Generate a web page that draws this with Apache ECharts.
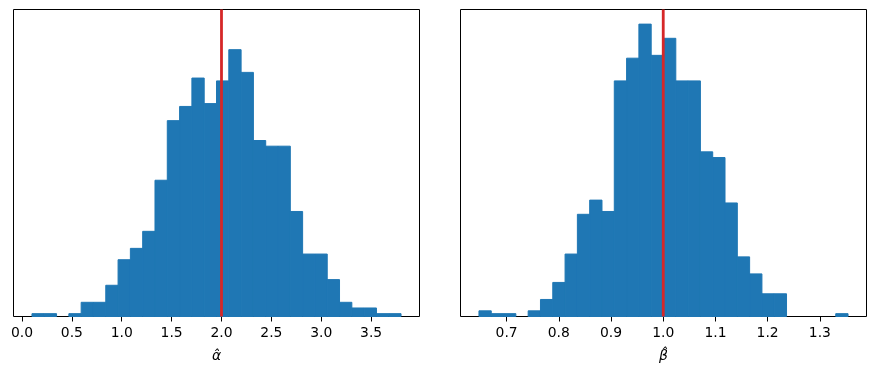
<!DOCTYPE html>
<html>
<head>
<meta charset="utf-8">
<script src="https://cdn.jsdelivr.net/npm/echarts@6/dist/echarts.min.js"></script>
<style>
  html, body { margin: 0; padding: 0; background: #fff; }
  #chart { width: 875px; height: 380px; }
</style>
</head>
<body>
<div id="chart"></div>
<script>
// alpha hat: 30 bins between the sample min and max
const alphaRange = [0.1, 3.8]
const alphaCounts = [1, 1, 0, 1, 5, 5, 11, 20, 24, 30, 48, 69, 74, 84, 75,
  83, 94, 86, 62, 60, 60, 37, 22, 22, 13, 5, 3, 3, 1, 1]
const alphaTicks = [0.0, 0.5, 1.0, 1.5, 2.0, 2.5, 3.0, 3.5]
const alphaTrue = 2.0

// beta hat
const betaRange = [0.647, 1.354]
const betaCounts = [2, 1, 1, 0, 2, 6, 12, 22, 36, 41, 37, 83, 91, 103, 92,
  98, 83, 83, 58, 56, 40, 21, 15, 8, 8, 0, 0, 0, 0, 1]
const betaTicks = [0.7, 0.8, 0.9, 1.0, 1.1, 1.2, 1.3]
const betaTrue = 1.0

// both panels share the y axis (matplotlib sharey), 5% headroom
const yMax = 103 * 1.05

const BLUE = '#1f77b4'
const RED = '#d62728'
const FONT = 'DejaVu Sans'

const binData = (range, counts) => {
  const w = (range[1] - range[0]) / counts.length
  return counts.map((c, i) => [range[0] + i * w, range[0] + (i + 1) * w, c])
}

const renderBar = (params, api) => {
  if (!api.value(2)) return null
  const topLeft = api.coord([api.value(0), api.value(2)])
  const bottomRight = api.coord([api.value(1), 0])
  return {
    type: 'rect',
    shape: {
      x: topLeft[0],
      y: topLeft[1],
      width: bottomRight[0] - topLeft[0],
      height: bottomRight[1] - topLeft[1]
    },
    // stroke in the fill colour hides the seams between bins
    style: { fill: BLUE, stroke: BLUE, lineWidth: 1 }
  }
}

const makeXAxis = (idx, range, ticks, name) => {
  const pad = (range[1] - range[0]) * 0.05
  return {
    type: 'value',
    gridIndex: idx,
    min: range[0] - pad,
    max: range[1] + pad,
    name: name,
    nameLocation: 'middle',
    nameGap: 33,
    nameTextStyle: { fontFamily: FONT, fontStyle: 'italic', fontSize: 14, color: '#000' },
    splitLine: { show: false },
    axisLine: { show: false },
    axisTick: {
      show: true,
      length: 5,
      customValues: ticks,
      lineStyle: { color: '#000', width: 1 }
    },
    axisLabel: {
      customValues: ticks,
      margin: 10,
      fontFamily: FONT,
      fontSize: 13.9,
      color: '#000',
      formatter: v => v.toFixed(1)
    }
  }
}

const makeYAxis = idx => ({
  type: 'value',
  gridIndex: idx,
  min: 0,
  max: yMax,
  show: false
})

const gridStyle = { show: true, borderColor: '#000', borderWidth: 1, backgroundColor: '#fff' }

const option = {
  animation: false,
  grid: [
    Object.assign({ left: 13.5, top: 9.5, width: 406, height: 307 }, gridStyle),
    Object.assign({ left: 460.5, top: 9.5, width: 406, height: 307 }, gridStyle)
  ],
  xAxis: [
    makeXAxis(0, alphaRange, alphaTicks, 'α\u0302'),
    makeXAxis(1, betaRange, betaTicks, 'β\u0302')
  ],
  yAxis: [makeYAxis(0), makeYAxis(1)],
  series: [
    {
      type: 'custom',
      xAxisIndex: 0,
      yAxisIndex: 0,
      renderItem: renderBar,
      encode: { x: [0, 1], y: 2 },
      data: binData(alphaRange, alphaCounts),
      silent: true
    },
    {
      type: 'custom',
      xAxisIndex: 1,
      yAxisIndex: 1,
      renderItem: renderBar,
      encode: { x: [0, 1], y: 2 },
      data: binData(betaRange, betaCounts),
      silent: true
    },
    {
      type: 'line',
      xAxisIndex: 0,
      yAxisIndex: 0,
      data: [[alphaTrue, 0], [alphaTrue, yMax]],
      symbol: 'none',
      z: 5,
      lineStyle: { color: RED, width: 2.8 },
      silent: true
    },
    {
      type: 'line',
      xAxisIndex: 1,
      yAxisIndex: 1,
      data: [[betaTrue, 0], [betaTrue, yMax]],
      symbol: 'none',
      z: 5,
      lineStyle: { color: RED, width: 2.8 },
      silent: true
    }
  ]
}

const chart = echarts.init(document.getElementById('chart'), null, { renderer: 'canvas' })
chart.setOption(option)
</script>
</body>
</html>
